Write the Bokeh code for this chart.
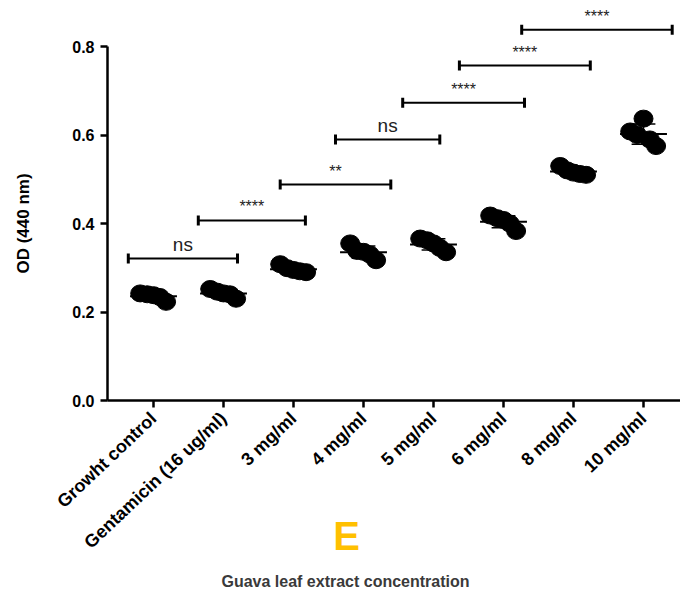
import numpy as np
from bokeh.plotting import figure
from bokeh.models import Range1d, FixedTicker, Label, LinearAxis
from bokeh.embed import file_html
from bokeh.resources import INLINE
from bokeh.core.properties import value

groups = ["Growht control", "Gentamicin (16 ug/ml)", "3 mg/ml", "4 mg/ml",
          "5 mg/ml", "6 mg/ml", "8 mg/ml", "10 mg/ml"]
# replicate OD values per group (left-to-right order within each group)
rep_values = [
    [0.242, 0.240, 0.238, 0.234, 0.223],
    [0.252, 0.246, 0.242, 0.240, 0.230],
    [0.308, 0.299, 0.295, 0.292, 0.290],
    [0.355, 0.338, 0.336, 0.330, 0.317],
    [0.366, 0.362, 0.355, 0.345, 0.335],
    [0.418, 0.412, 0.408, 0.400, 0.383],
    [0.530, 0.520, 0.515, 0.512, 0.510],
    [0.608, 0.600, 0.637, 0.590, 0.575],
]
y_ticks = [0.0, 0.2, 0.4, 0.6, 0.8]
# significance brackets: (start, end) in category units, height, label
br_x0 = [0.64, 1.64, 2.81, 3.60, 4.56, 5.37, 6.26]
br_x1 = [2.20, 3.17, 4.39, 5.09, 6.30, 7.24, 8.41]
br_y = [0.321, 0.407, 0.488, 0.590, 0.673, 0.757, 0.838]
br_lab = ["ns", "****", "**", "ns", "****", "****", "****"]

jitter = np.array([-0.19, -0.09, 0.0, 0.09, 0.18])
half_mean = 0.335
half_cap = 0.17

x_pos = np.arange(1, len(groups) + 1)
px, py = [], []
for xi, vals in zip(x_pos, rep_values):
    for j, v in zip(jitter, vals):
        px.append(xi + j)
        py.append(v)
means = np.array([np.mean(v) for v in rep_values])
sds = np.array([np.std(v, ddof=1) for v in rep_values])

W, H = 680, 592
x_unit = 70.0      # px per category
y_unit = 442.5     # px per OD unit
x_start = 1 - 153 / x_unit
x_end = 1 + (W - 153) / x_unit
y_end = 400 / y_unit
y_start = -(H - 400) / y_unit
yaxis_x = 1 - 46 / x_unit

p = figure(width=W, height=H, output_backend="svg", toolbar_location=None,
           x_range=Range1d(x_start, x_end), y_range=Range1d(y_start, y_end),
           x_axis_type=None, y_axis_type=None,
           min_border=0, min_border_left=0, min_border_right=0,
           min_border_top=0, min_border_bottom=0)
p.outline_line_color = None
p.grid.visible = False
p.background_fill_color = "white"
p.border_fill_color = "white"

xaxis = LinearAxis(fixed_location=0, bounds=(yaxis_x, x_end))
yaxis = LinearAxis(fixed_location=yaxis_x, bounds=(0, 0.8))
p.add_layout(xaxis, "below")
p.add_layout(yaxis, "left")

for ax in (xaxis, yaxis):
    ax.axis_line_width = 2.5
    ax.axis_line_color = "black"
    ax.major_tick_line_width = 2.5
    ax.major_tick_line_color = "black"
    ax.major_tick_out = 7
    ax.major_tick_in = 0
    ax.minor_tick_line_color = None
    ax.major_label_text_font = "Liberation Sans"
    ax.major_label_text_font_style = "bold"
    ax.major_label_text_color = "black"
yaxis.ticker = FixedTicker(ticks=y_ticks)
yaxis.major_label_text_font_size = "16px"
yaxis.major_label_standoff = 6
yaxis.major_label_overrides = {t: f"{t:.1f}" for t in y_ticks}
xaxis.ticker = FixedTicker(ticks=list(x_pos))
xaxis.major_label_overrides = {int(x): g for x, g in zip(x_pos, groups)}
xaxis.major_label_orientation = 0.76
xaxis.major_label_text_font_size = "18px"
xaxis.major_label_standoff = 8

# dots
p.ellipse(px, py, width=19, height=17, width_units="screen", height_units="screen",
          fill_color="black", line_color="black")
# mean lines
p.segment(x0=x_pos - half_mean, x1=x_pos + half_mean, y0=means, y1=means,
          line_color="black", line_width=2)
# SD whiskers
p.segment(x0=x_pos, x1=x_pos, y0=means - sds, y1=means + sds, line_color="black", line_width=1.5)
p.segment(x0=x_pos - half_cap, x1=x_pos + half_cap, y0=means + sds, y1=means + sds,
          line_color="black", line_width=1.5)
p.segment(x0=x_pos - half_cap, x1=x_pos + half_cap, y0=means - sds, y1=means - sds,
          line_color="black", line_width=1.5)

# significance brackets
p.segment(x0=br_x0, x1=br_x1, y0=br_y, y1=br_y, line_color="black", line_width=2)
p.scatter(x=br_x0 + br_x1, y=br_y + br_y, marker="dash", angle=np.pi / 2, size=10,
          line_color="black", line_width=3)
mid = [(a + b) / 2 for a, b in zip(br_x0, br_x1)]
ns_idx = [i for i, l in enumerate(br_lab) if l == "ns"]
st_idx = [i for i, l in enumerate(br_lab) if l != "ns"]
p.text(x=[mid[i] for i in ns_idx], y=[br_y[i] for i in ns_idx], text=[br_lab[i] for i in ns_idx],
       text_align="center", text_baseline="bottom", y_offset=-3,
       text_font=value("Liberation Sans"), text_font_size="19px", text_color="#222222")
p.text(x=[mid[i] for i in st_idx], y=[br_y[i] for i in st_idx], text=[br_lab[i] for i in st_idx],
       text_align="center", text_baseline="bottom", y_offset=-5,
       text_font=value("Liberation Sans"), text_font_size="16px", text_color="#222222")

# y axis title
p.add_layout(Label(x=23, y=H - 223, x_units="screen", y_units="screen", angle=np.pi / 2,
                   text="OD (440 nm)", text_align="center", text_baseline="middle",
                   text_font="Liberation Sans", text_font_style="bold",
                   text_font_size="17px", text_color="black"))
# panel letter and x title
p.add_layout(Label(x=346, y=H - 535, x_units="screen", y_units="screen", text="E",
                   text_align="center", text_baseline="middle",
                   text_font="Liberation Sans", text_font_style="bold",
                   text_font_size="40px", text_color="#FFC000"))
p.add_layout(Label(x=345, y=H - 581, x_units="screen", y_units="screen",
                   text="Guava leaf extract concentration",
                   text_align="center", text_baseline="middle",
                   text_font="Liberation Sans", text_font_style="bold",
                   text_font_size="16px", text_color="#3a3a3a"))

open("out.html", "w").write(file_html(p, INLINE))
